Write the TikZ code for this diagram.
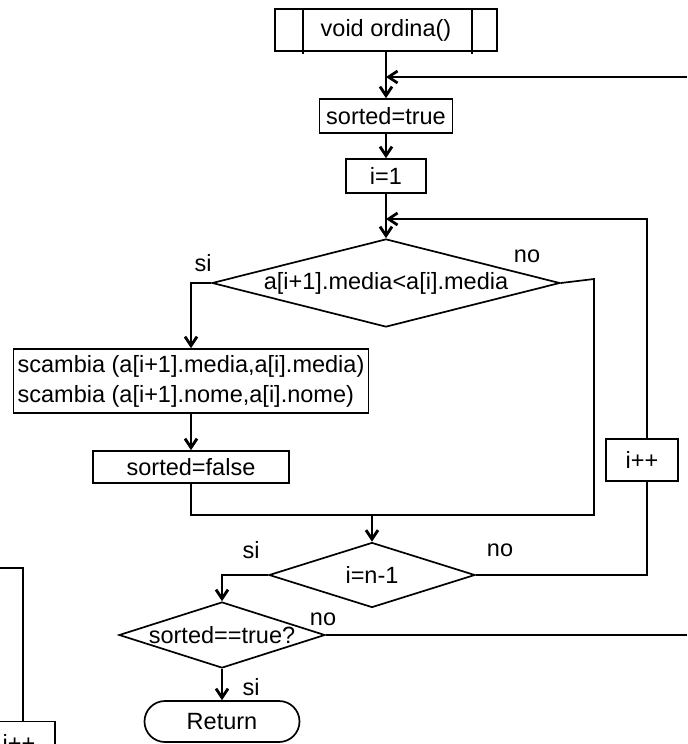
\documentclass[tikz,border=0pt]{standalone}
\usepackage{fontspec}
\setmainfont{Liberation Sans}
\usetikzlibrary{shapes.geometric,shapes.misc,arrows.meta,calc}
\begin{document}
\begin{tikzpicture}[x=0.5pt,y=-0.5pt,
  font=\fontsize{11.75}{15}\selectfont,
  line width=0.85pt,
  box/.style={draw,rectangle,inner sep=0pt,align=center},
  dec/.style={draw,diamond,inner sep=0pt},
  lbl/.style={inner sep=0pt},
  arr/.style={-{Straight Barb[length=4.5pt,width=6pt,line width=1.4pt]}},
]
\useasboundingbox (0,0) rectangle (687,744);
\clip (0,0) rectangle (687,744);

% nodes
\node[box,minimum width=111pt,minimum height=21pt] (ordina) at (386,30) {void ordina()};
\draw ($(ordina.north west)+(29,0)$) -- ($(ordina.south west)+(29,2)$);
\draw ($(ordina.north east)+(-26,0)$) -- ($(ordina.south east)+(-26,2)$);

\coordinate (top1) at (386,77);
\coordinate (edgeA) at (687,77);
\node[box,minimum width=66.5pt,minimum height=17pt] (st) at (386,116) {sorted=true};
\node[box,minimum width=40pt,minimum height=17pt] (i1) at (386,176) {i=1};
\coordinate (top2) at (386,219);
\node[dec,minimum width=174pt,minimum height=44pt] (d1) at (386,283) {\makebox[0pt]{a[i+1].media<a[i].media}};
\node[lbl] (si1) at (203,263) {si};
\node[lbl] (no1) at (527,256) {no};
\coordinate (lb) at (191,283);
\node[box,minimum width=177.5pt,minimum height=32pt,align=left] (sc) at (191,381) {scambia (a[i+1].media,a[i].media)\\scambia (a[i+1].nome,a[i].nome)};
\node[box,minimum width=98pt,minimum height=16pt] (sf) at (191,467) {sorted=false};
\coordinate (brR) at (594,279);
\coordinate (mergeR) at (594,515);
\coordinate (mergeM) at (372,515);
\node[dec,minimum width=103pt,minimum height=32.5pt] (d2) at (372,575) {\makebox[0pt]{i=n-1}};
\node[lbl] (si2) at (251,550) {si};
\node[lbl] (no2) at (500,550) {no};
\node[box,minimum width=36pt,minimum height=21pt] (ipp) at (642,460) {i++};
\coordinate (rc) at (647,575);
\coordinate (rTop) at (647,219);
\node[dec,minimum width=103pt,minimum height=33pt] (d3) at (222,635) {\makebox[0pt]{sorted==true?}};
\node[lbl] (no3) at (323,619) {no};
\node[lbl] (si3) at (251,687) {si};
\node[draw,rounded rectangle,minimum width=77.5pt,minimum height=20.5pt,inner sep=0pt] (ret) at (222,721.5) {Return};
\coordinate (edgeB) at (687,635);

% partial box at lower left
\coordinate (pl0) at (0,568);
\coordinate (pl1) at (23,568);
\node[box,minimum width=36pt,minimum height=21pt] (ipp2) at (19,742.5) {i++};
\draw (pl0) -- (pl1) -- (pl1 |- ipp2.north);

% connectors
\draw[arr] (ordina.south) -- (st.north);
\draw[arr] (edgeA) -- (top1);
\draw[arr] (st.south) -- (i1.north);
\draw[arr] (i1.south) -- (d1.north);
\draw[arr] (ipp.north -| rTop) -- (rTop) -- (top2);
\draw (d2.east) -- (rc) -- (rc |- ipp.south);
\draw[arr] (d1.west) -- (lb) -- (lb |- sc.north);
\draw (sf.south) -- (sf.south |- mergeR) -- (mergeR) -- (brR) -- (d1.east);
\draw[arr] (mergeM) -- (d2.north);
\draw[arr] (sc.south) -- (sf.north);
\draw[arr] (d2.west) -- (d2.west -| d3.north) -- (d3.north);
\draw (d3.east) -- (edgeB);
\draw[arr] (d3.south) -- (ret.north);
\end{tikzpicture}
\end{document}
